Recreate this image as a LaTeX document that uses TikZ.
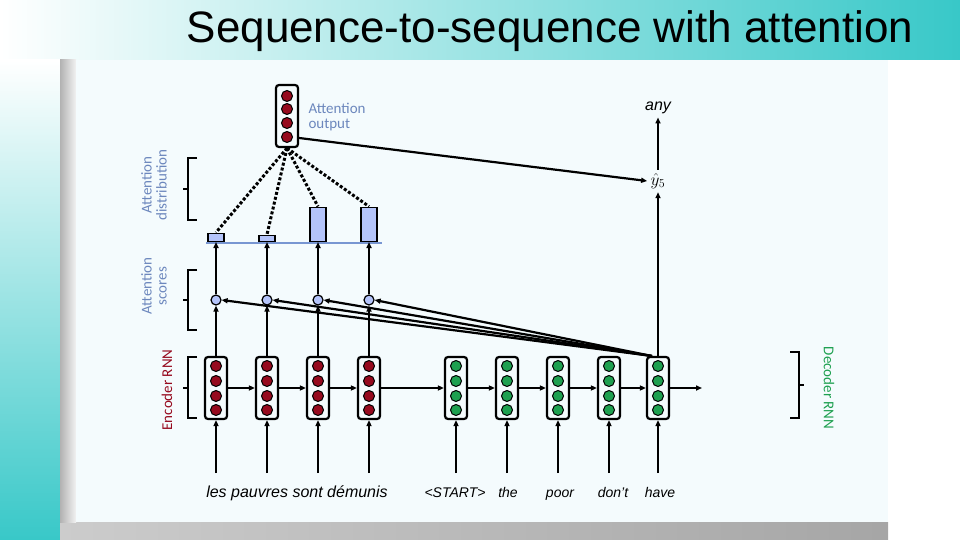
\documentclass[tikz,border=0pt]{standalone}
\usepackage{fontspec}
\setmainfont{Liberation Sans}
\newfontfamily\carlitofont{Carlito}
\usetikzlibrary{arrows.meta,decorations.pathreplacing}
\definecolor{teal1}{RGB}{56,200,200}
\definecolor{panel}{RGB}{244,251,253}
\definecolor{dred}{RGB}{150,10,30}
\definecolor{dgreen}{RGB}{30,160,80}
\definecolor{lblue}{RGB}{180,196,250}
\definecolor{sblue}{RGB}{120,150,210}
\begin{document}
\begin{tikzpicture}[x=1pt,y=-1pt,
  cellbox/.style={draw,line width=2.2pt,rounded corners=3pt,minimum width=22pt,minimum height=62pt,inner sep=0pt},
  arr/.style={-{Triangle[length=6pt,width=5pt]},line width=2.2pt},
  lab/.style={anchor=base,font=\itshape\fontsize{16}{16}\selectfont},
  side/.style={font=\carlitofont\fontsize{15}{15}\selectfont}]
\useasboundingbox (0,0) rectangle (960,540);
\shade[left color=white,right color=teal1] (0,0) rectangle (960,60);
\shade[top color=white,bottom color=teal1] (0,60) rectangle (60,540);
\shade[left color=gray!40,right color=gray!70] (60,522) rectangle (888,540);
\shade[left color=gray!60,right color=gray!10] (60,60) rectangle (76,522);
\fill[panel] (76,60) rectangle (888,522);
\node[font=\fontsize{44}{44}\selectfont] (title) at (550,31) {Sequence-to-sequence with attention};
% cells
\foreach \n/\x/\c in {e1/216/dred,e2/267/dred,e3/318/dred,e4/369/dred,d1/456/dgreen,d2/507/dgreen,d3/558/dgreen,d4/609/dgreen,d5/658/dgreen}{
  \node[cellbox] (\n) at (\x,388) {};
  \foreach \yy in {366,381,396,410} \fill[\c,draw=black,line width=1pt] (\x,\yy) circle (5.5);
}
\node[cellbox] (ao) at (287,116) {};
\foreach \yy in {96,109,123,137} \fill[dred,draw=black,line width=1pt] (287,\yy) circle (5.5);
\node[anchor=west,text=sblue!90!black,align=left,side] (aol) at (305,117) {Attention\\output};
% inputs
\foreach \n/\x in {e1/216,e2/267,e3/318,e4/369,d1/456,d2/507,d3/558,d4/609,d5/658}{
  \coordinate (in\n) at (\x,473);
  \draw[arr] (in\n) -- (\n.south);
}
\node[lab] (src) at (297,497) {les pauvres sont démunis};
\node[lab,font=\itshape\fontsize{14}{14}\selectfont] (w1) at (455,497) {<START>};
\node[lab,font=\itshape\fontsize{14}{14}\selectfont] (w2) at (508,497) {the};
\node[lab,font=\itshape\fontsize{14}{14}\selectfont] (w3) at (560,497) {poor};
\node[lab,font=\itshape\fontsize{14}{14}\selectfont] (w4) at (613,497) {don't};
\node[lab,font=\itshape\fontsize{14}{14}\selectfont] (w5) at (660,497) {have};
% horizontal
\foreach \a/\b in {e1/e2,e2/e3,e3/e4,e4/d1,d1/d2,d2/d3,d3/d4,d4/d5}
  \draw[arr] (\a.east) -- (\b.west);
\coordinate (dout) at (702,388);
\draw[arr] (d5.east) -- (dout);
% scores and bars
\draw[sblue,line width=2.5pt] (206,243) -- (382,243);
\foreach \i/\x/\h in {1/216/8,2/267/6,3/318/34,4/369/34}{
  \node[circle,draw,fill=lblue,line width=1.2pt,inner sep=0pt,minimum size=10pt] (s\i) at (\x,300) {};
  \node[draw,fill=lblue,line width=1.5pt,minimum width=16pt,minimum height=\h pt,inner sep=0pt,anchor=south] (b\i) at (\x,242) {};
  \draw[arr] (e\i.north) -- (s\i);
  \draw[arr] (s\i) -- (b\i.south);
  \draw[line width=3pt,dotted] (ao.south) -- (b\i.north);
}
\coordinate (dtop) at (652,356);
\foreach \i in {1,2,3,4} \draw[arr] (dtop) -- (s\i.east);
% outputs
\node[font=\fontsize{18}{18}\selectfont] (y5) at (658,181) {$\hat{y}_5$};
\node[font=\itshape\fontsize{16}{16}\selectfont] (any) at (658,108) {any};
\draw[arr] (d5.north) -- (y5.south);
\draw[arr] (y5.north) -- (any.south);
\draw[arr] (ao.east) ++(0,22) -- (y5.west);
% brackets
\draw[line width=1.2pt] (197,158) -- (188,158) -- (188,220) -- (197,220) (188,189) -- (183,189);
\draw[line width=1.2pt] (197,270) -- (188,270) -- (188,330) -- (197,330) (188,300) -- (183,300);
\draw[line width=1.2pt] (197,357) -- (188,357) -- (188,418) -- (197,418) (188,388) -- (183,388);
\draw[line width=1.2pt] (790,352) -- (799,352) -- (799,418) -- (790,418) (799,385) -- (804,385);
\node[rotate=90,side,text=sblue!90!black,align=center] (ad) at (154,185) {Attention\\distribution};
\node[rotate=90,side,text=sblue!90!black,align=center] (as) at (154,286) {Attention\\scores};
\node[rotate=90,side,text=dred] (er) at (167,390) {Encoder RNN};
\node[rotate=-90,side,text=dgreen] (dr) at (829,388) {Decoder RNN};
\end{tikzpicture}
\end{document}
